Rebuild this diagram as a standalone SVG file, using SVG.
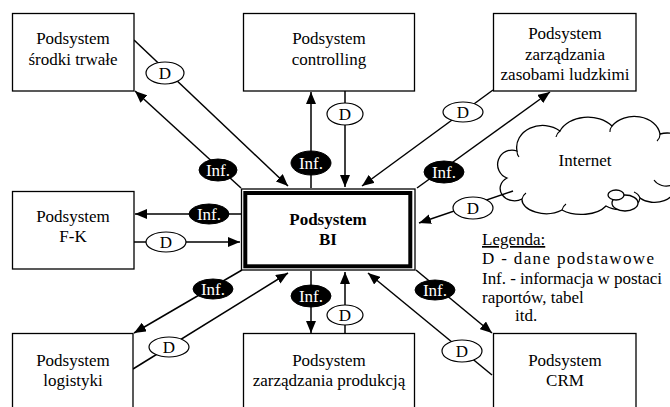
<svg xmlns="http://www.w3.org/2000/svg" width="670" height="407" viewBox="0 0 670 407">
<style>
text{font-family:"Liberation Serif","Times New Roman",serif;font-size:17px;fill:#000}
.c{text-anchor:middle}
.box{fill:#fff;stroke:#000;stroke-width:1.3}
.ln{stroke:#000;stroke-width:1.5;fill:none;marker-end:url(#ah)}
.d{fill:#fff;stroke:#000;stroke-width:1.2}
.inf{fill:#000;stroke:#000;stroke-width:1}
.wt{fill:#fff}
.cl{fill:#fff;stroke:#000;stroke-width:1.3}
</style>
<defs>
<marker id="ah" markerUnits="userSpaceOnUse" markerWidth="12" markerHeight="10" viewBox="0 0 12 10" refX="12" refY="5" orient="auto">
<path d="M0,0 L12,5 L0,10 z" fill="#000"/>
</marker>
</defs>
<rect width="670" height="407" fill="#fff"/>

<g id="internet">
<path class="cl" d="M507,178 A13,13 0 0 1 517,151 A26,22 0 0 1 560,131 A30,22 0 0 1 612,126 A26,20 0 0 1 660,134 A26,26 0 0 1 674,185 A20,14 0 0 1 640,198 A20,12 0 0 1 606,206 A28,16 0 0 1 562,210 A24,14 0 0 1 522,199 A14,12 0 0 1 507,178 Z"/>
<path fill="none" stroke="#000" stroke-width="1.1" d="M517,151 a12,10 0 0 0 2,6 M560,131 a14,10 0 0 0 -4,6 M612,126 a12,10 0 0 0 -2,6 M660,134 a12,10 0 0 1 -3,7 M654,180 a14,12 0 0 0 18,5 M640,198 a12,10 0 0 0 -6,-6 M562,210 a12,10 0 0 1 4,-6 M522,199 a10,10 0 0 1 4,-6"/>
<ellipse class="cl" cx="625" cy="203" rx="13" ry="8"/>
<ellipse class="cl" cx="616" cy="195" rx="8" ry="5"/>
<text class="c" x="585" y="166">Internet</text>
</g>

<g id="connectors">
<line class="ln" x1="134" y1="40" x2="288" y2="186"/>
<line class="ln" x1="241" y1="188" x2="135" y2="91"/>
<line class="ln" x1="311" y1="188" x2="311" y2="92"/>
<line class="ln" x1="345" y1="91" x2="345" y2="187"/>
<line class="ln" x1="493" y1="90" x2="362" y2="186"/>
<line class="ln" x1="417" y1="188" x2="550" y2="92"/>
<line class="ln" x1="513" y1="191" x2="419" y2="223"/>
<line class="ln" x1="241" y1="214" x2="135" y2="214"/>
<line class="ln" x1="134" y1="242" x2="240" y2="242"/>
<line class="ln" x1="242" y1="270" x2="134" y2="333"/>
<line class="ln" x1="133" y1="369" x2="288" y2="273"/>
<line class="ln" x1="311" y1="271" x2="311" y2="333"/>
<line class="ln" x1="345" y1="334" x2="345" y2="272"/>
<line class="ln" x1="416" y1="270" x2="492" y2="333"/>
<line class="ln" x1="492" y1="375" x2="368" y2="273"/>

<ellipse class="d" cx="165" cy="73" rx="19" ry="11"/><text class="c" x="165" y="79">D</text>
<ellipse class="inf" cx="218" cy="170" rx="19" ry="11"/><text class="c wt" x="218" y="176">Inf.</text>
<ellipse class="inf" cx="311" cy="163" rx="20" ry="12"/><text class="c wt" x="311" y="169">Inf.</text>
<ellipse class="d" cx="345" cy="114" rx="18" ry="11"/><text class="c" x="345" y="120">D</text>
<ellipse class="d" cx="463" cy="112" rx="20" ry="10"/><text class="c" x="463" y="118">D</text>
<ellipse class="inf" cx="444" cy="172" rx="20" ry="11"/><text class="c wt" x="444" y="178">Inf.</text>
<ellipse class="d" cx="473" cy="208" rx="20" ry="11"/><text class="c" x="473" y="214">D</text>
<ellipse class="inf" cx="209" cy="214" rx="20" ry="10"/><text class="c wt" x="209" y="220">Inf.</text>
<ellipse class="d" cx="166" cy="242" rx="20" ry="10"/><text class="c" x="166" y="248">D</text>
<ellipse class="inf" cx="213" cy="289" rx="20" ry="10"/><text class="c wt" x="213" y="295">Inf.</text>
<ellipse class="d" cx="169" cy="347" rx="20" ry="10"/><text class="c" x="169" y="353">D</text>
<ellipse class="inf" cx="311" cy="296" rx="20" ry="11"/><text class="c wt" x="311" y="302">Inf.</text>
<ellipse class="d" cx="345" cy="315" rx="18" ry="10"/><text class="c" x="345" y="321">D</text>
<ellipse class="inf" cx="435" cy="290" rx="20" ry="10"/><text class="c wt" x="435" y="296">Inf.</text>
<ellipse class="d" cx="462" cy="351" rx="20" ry="11"/><text class="c" x="462" y="357">D</text>
</g>

<g id="srodki">
<rect class="box" x="12.5" y="13.5" width="121.5" height="77.5"/>
<text class="c" x="73" y="44">Podsystem</text>
<text class="c" x="73" y="65">środki trwałe</text>
</g>
<g id="controlling">
<rect class="box" x="243.5" y="13.5" width="171" height="77.5"/>
<text class="c" x="329" y="44">Podsystem</text>
<text class="c" x="329" y="65">controlling</text>
</g>
<g id="zzl">
<rect class="box" x="493.5" y="13.5" width="142.5" height="77.5"/>
<text class="c" x="565" y="39">Podsystem</text>
<text class="c" x="565" y="60">zarządzania</text>
<text class="c" x="565" y="80">zasobami ludzkimi</text>
</g>
<g id="fk">
<rect class="box" x="12.5" y="191.5" width="121.5" height="77.5"/>
<text class="c" x="73" y="222">Podsystem</text>
<text class="c" x="73" y="242">F-K</text>
</g>
<g id="logistyki">
<rect class="box" x="12.5" y="333.5" width="120.5" height="80"/>
<text class="c" x="73" y="366">Podsystem</text>
<text class="c" x="73" y="386">logistyki</text>
</g>
<g id="produkcja">
<rect class="box" x="243.5" y="333.5" width="171" height="80"/>
<text class="c" x="329" y="366">Podsystem</text>
<text class="c" x="329" y="386">zarządzania produkcją</text>
</g>
<g id="crm">
<rect class="box" x="493.5" y="333.5" width="142.5" height="80"/>
<text class="c" x="565" y="366">Podsystem</text>
<text class="c" x="565" y="386">CRM</text>
</g>
<g id="bi">
<rect x="241.5" y="189" width="173.5" height="81" fill="#fff" stroke="#000" stroke-width="1.3"/>
<rect x="245.3" y="193" width="165" height="73.3" fill="#fff" stroke="#000" stroke-width="4"/>
<text class="c" x="328" y="225" font-weight="bold">Podsystem</text>
<text class="c" x="328" y="245" font-weight="bold">BI</text>
</g>

<g id="legenda">
<text x="482" y="245" text-decoration="underline">Legenda:</text>
<text x="482" y="264" textLength="172">D - dane podstawowe</text>
<text x="482" y="284" textLength="180">Inf. - informacja w postaci</text>
<text x="482" y="303">raportów, tabel</text>
<text x="515" y="321">itd.</text>
</g>
</svg>
